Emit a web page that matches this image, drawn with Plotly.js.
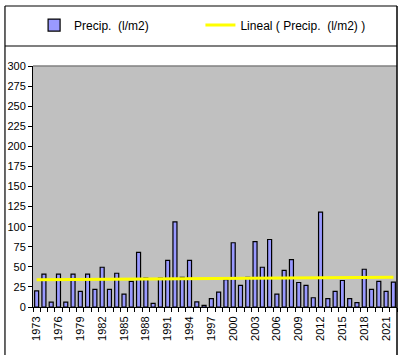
<!DOCTYPE html>
<html>
<head>
<meta charset="utf-8">
<script src="https://cdn.plot.ly/plotly-3.0.1.min.js"></script>
<style>
html,body{margin:0;padding:0;background:#fff;}
#chart{width:402px;height:355px;}
</style>
</head>
<body>
<div id="chart"></div>
<script>
const years = [1973,1974,1975,1976,1977,1978,1979,1980,1981,1982,
               1983,1984,1985,1986,1987,1988,1989,1990,1991,1992,
               1993,1994,1995,1996,1997,1998,1999,2000,2001,2002,
               2003,2004,2005,2006,2007,2008,2009,2010,2011,2012,
               2013,2014,2015,2016,2017,2018,2019,2020,2021,2022];
const precip = [20,41,6,41,6,41,19.5,41,22,49.5,
                22,42,16,32,68,36,4.5,36,58,106,
                37,58,6.5,2,10.5,18.5,34,80,27,37,
                81.5,49.5,84,16,45.5,59,30.5,27,11.5,118,
                10.5,19.5,33,10.5,5.5,47,22,32,19.5,31];
const tickYears = [1973,1976,1979,1982,1985,1988,1991,1994,1997,2000,2003,2006,2009,2012,2015,2018,2021];
const seriesName = "Precip.\u00a0 (l/m2)";
const trendName = "Lineal ( Precip.\u00a0 (l/m2) )";

// linear trend (least squares) computed from the data
const n = years.length;
const mx = years.reduce((a,b)=>a+b,0)/n;
const my = precip.reduce((a,b)=>a+b,0)/n;
let sxy = 0, sxx = 0;
for (let i=0;i<n;i++){ sxy += (years[i]-mx)*(precip[i]-my); sxx += (years[i]-mx)*(years[i]-mx); }
const slope = sxy/sxx, icpt = my - slope*mx;
const trendX = [years[0], years[n-1]];
const trendY = trendX.map(x => icpt + slope*x);

const fam = "Liberation Sans, Arial, sans-serif";
const font = {family: fam, size: 11, color: "#000"};
const legFont = {family: fam, size: 12, color: '#000'};

const data = [
  {type:'bar', x: years, y: precip, name: seriesName, width: 0.55, legend:'legend',
   marker:{color:'#9999FF', line:{color:'#000', width:1.2}}},
  {type:'scatter', mode:'lines', x: trendX, y: trendY, name: trendName, legend:'legend2',
   line:{color:'#FFFF00', width:3}}
];

const layout = {
  width: 402, height: 355,
  margin: {l:33, r:5, t:66, b:48, pad:0},
  paper_bgcolor: '#fff',
  plot_bgcolor: '#C0C0C0',
  font: font,
  showlegend: true,
  legend: {orientation:'h', x:0.003, xanchor:'left', y:1.17, yanchor:'middle',
           font:legFont, bgcolor:'rgba(0,0,0,0)'},
  legend2: {orientation:'h', x:0.46, xanchor:'left', y:1.17, yanchor:'middle',
           font:legFont, bgcolor:'rgba(0,0,0,0)'},
  xaxis: {type:'linear', range:[1972.5, 2022.5], showgrid:false, zeroline:false,
          tickvals: tickYears, ticktext: tickYears.map(String), tickangle:-90,
          ticks:'outside', ticklen:4, tickcolor:'rgba(0,0,0,0)',
          minor:{ticks:'outside', ticklen:4, tickcolor:'#000', dtick:1, tick0:1972.5, showgrid:false},
          showline:true, linecolor:'#000', linewidth:1,
          tickfont:font, fixedrange:true},
  yaxis: {range:[0,300], dtick:25, tick0:0, showgrid:false, zeroline:false,
          ticks:'outside', ticklen:4, tickcolor:'#000',
          showline:true, linecolor:'#000', linewidth:1,
          tickfont:font, fixedrange:true},
  shapes: [
    {type:'line', xref:'paper', yref:'paper', x0:0, x1:1, y0:1, y1:1, line:{color:'#808080', width:1.5}},
    {type:'line', xref:'paper', yref:'paper', x0:-0.077, x1:1.0, y0:1.249, y1:1.249, line:{color:'#000', width:1.2}},
    {type:'line', xref:'paper', yref:'paper', x0:-0.077, x1:1.0, y0:1.083, y1:1.083, line:{color:'#000', width:1.2}},
    {type:'line', xref:'paper', yref:'paper', x0:-0.077, x1:-0.077, y0:1.249, y1:-0.2, line:{color:'#000', width:1.2}},
    {type:'line', xref:'paper', yref:'paper', x0:1.0, x1:1.0, y0:1.249, y1:-0.2, line:{color:'#000', width:1.5}}
  ]
};

Plotly.newPlot('chart', data, layout, {displayModeBar:false, staticPlot:true});
</script>
</body>
</html>
